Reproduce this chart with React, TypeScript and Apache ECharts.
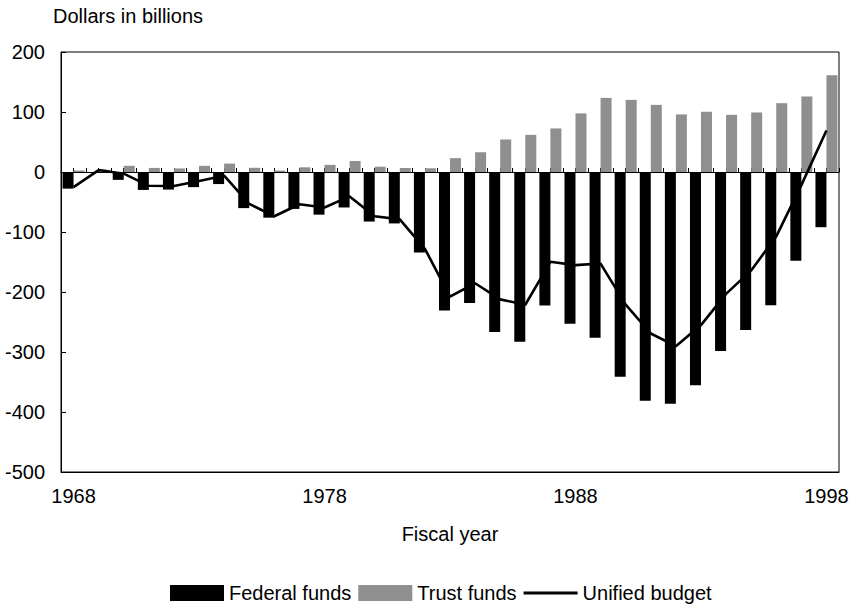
import React, { useEffect, useRef } from 'react';
import * as echarts from 'echarts';

const years = [
  '1968', '1969', '1970', '1971', '1972', '1973', '1974', '1975', '1976', '1977',
  '1978', '1979', '1980', '1981', '1982', '1983', '1984', '1985', '1986', '1987',
  '1988', '1989', '1990', '1991', '1992', '1993', '1994', '1995', '1996', '1997', '1998',
];

const federalFunds = [
  -27.7, -0.5, -13.1, -29.9, -29.3, -25.2, -20.1, -60.2, -76.1, -61.5,
  -71.1, -59.1, -82.6, -85.7, -134.2, -230.9, -218.3, -266.5, -283.1, -222.3,
  -252.9, -276.1, -341.2, -381.1, -386.3, -355.5, -298.5, -263.2, -222.1, -147.8, -92.0,
];

const trustFunds = [
  2.5, 3.7, 10.3, 6.8, 5.9, 10.3, 14.0, 7.0, 2.4, 7.8,
  11.9, 18.4, 8.8, 6.7, 6.2, 23.1, 32.9, 54.2, 61.9, 72.6,
  97.7, 123.5, 120.2, 111.9, 96.0, 100.4, 95.3, 99.2, 114.7, 125.9, 161.3,
];

const unifiedBudget = [
  -25.2, 3.2, -2.8, -23.0, -23.4, -14.9, -6.1, -53.2, -73.7, -53.7,
  -59.2, -40.7, -73.8, -79.0, -128.0, -207.8, -185.4, -212.3, -221.2, -149.7,
  -155.2, -152.6, -221.0, -269.2, -290.3, -255.1, -203.2, -164.0, -107.4, -21.9, 69.3,
];

// Tick positions on the zero line: every band edge and band centre (half-year steps).
const halfYearTicks = years.flatMap((y) => [y + ' start', y + ' mid']).concat(['end']);

const FONT = 'Liberation Sans, Arial, Helvetica, sans-serif';
const FS = 20;
const LINE_ICON = 'path://M0,0 L0,0 M0,6.6 L54,6.6 L54,9.4 L0,9.4 Z M54,16 L54,16';

export default function App() {
  const ref = useRef<HTMLDivElement>(null);

  useEffect(() => {
    if (!ref.current) return;
    const chart = echarts.init(ref.current, null, { renderer: 'svg' });
    chart.setOption({
      animation: false,
      backgroundColor: '#fff',
      textStyle: { fontFamily: FONT, color: '#000' },
      grid: {
        left: 61,
        right: 14,
        top: 52,
        bottom: 134,
        show: true,
        borderColor: '#000',
        borderWidth: 1,
        containLabel: false,
        outerBoundsMode: 'none',
      },
      legend: {
        left: 165,
        top: 578,
        padding: 5,
        itemWidth: 54,
        itemHeight: 16,
        itemGap: 7,
        selectedMode: false,
        textStyle: { fontSize: FS, color: '#000', fontFamily: FONT },
        data: [
          { name: 'Federal funds', icon: 'rect' },
          { name: 'Trust funds', icon: 'rect' },
          { name: 'Unified budget', icon: LINE_ICON },
        ],
      },
      graphic: [
        {
          type: 'text',
          left: 53,
          top: 6,
          style: { text: 'Dollars in billions', fontSize: FS, fill: '#000', fontFamily: FONT },
        },
        {
          type: 'text',
          x: 450,
          y: 534,
          style: {
            text: 'Fiscal year',
            fontSize: FS,
            fill: '#000',
            fontFamily: FONT,
            align: 'center',
            verticalAlign: 'middle',
          },
        },
      ],
      xAxis: [
        {
          type: 'category',
          data: years,
          position: 'bottom',
          axisLine: { show: true, onZero: false, lineStyle: { color: '#000', width: 1 } },
          axisTick: { show: false },
          axisLabel: { show: true, interval: 9, margin: 14, fontSize: FS, color: '#000', fontFamily: FONT },
          splitLine: { show: false },
        },
        {
          type: 'category',
          data: halfYearTicks,
          boundaryGap: false,
          position: 'top',
          axisLine: { show: true, onZero: true, onZeroAxisIndex: 0, lineStyle: { color: '#000', width: 1 } },
          axisTick: { show: true, inside: false, length: 4, interval: 0, lineStyle: { color: '#000' } },
          axisLabel: { show: false },
          splitLine: { show: false },
        },
      ],
      yAxis: {
        type: 'value',
        min: -500,
        max: 200,
        interval: 100,
        axisLine: { show: true, lineStyle: { color: '#000' } },
        axisTick: { show: true, inside: true, length: 5, lineStyle: { color: '#000' } },
        axisLabel: { margin: 16, fontSize: FS, color: '#000', fontFamily: FONT },
        splitLine: { show: false },
      },
      series: [
        {
          name: 'Federal funds',
          type: 'bar',
          xAxisIndex: 0,
          data: federalFunds,
          barWidth: 11,
          barGap: '0%',
          itemStyle: { color: '#000' },
        },
        {
          name: 'Trust funds',
          type: 'bar',
          xAxisIndex: 0,
          data: trustFunds,
          barWidth: 11,
          barGap: '0%',
          itemStyle: { color: '#8f8f8f' },
        },
        {
          name: 'Unified budget',
          type: 'line',
          xAxisIndex: 0,
          data: unifiedBudget,
          symbol: 'none',
          lineStyle: { color: '#000', width: 2.6 },
          itemStyle: { color: '#000' },
          z: 5,
        },
      ],
    });
    return () => chart.dispose();
  }, []);

  return (
    <div
      ref={ref}
      style={{ position: 'absolute', left: 0, top: 0, width: 853, height: 606 }}
    />
  );
}
